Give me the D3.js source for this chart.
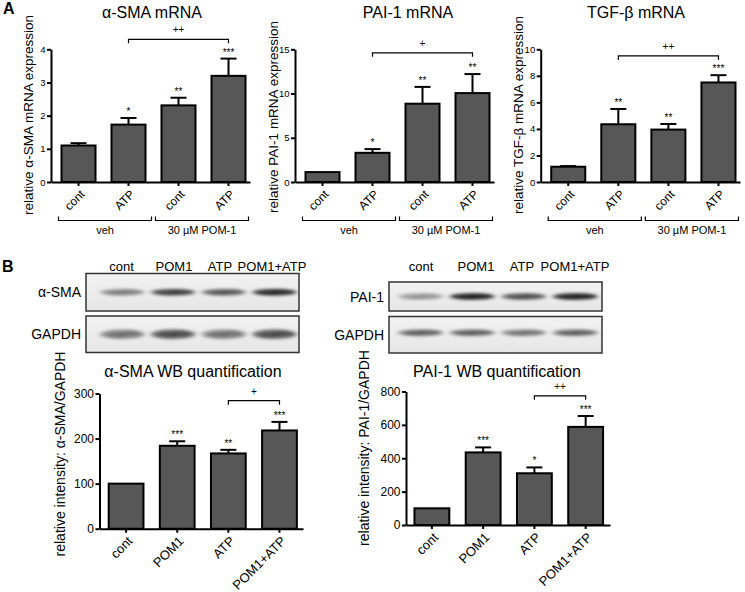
<!DOCTYPE html>
<html>
<head>
<meta charset="utf-8">
<script src="https://cdn.jsdelivr.net/npm/d3@7"></script>
<style>
  body { margin: 0; background: #fff; }
  svg { font-family: "Liberation Sans", Arial, Helvetica, sans-serif; }
</style>
</head>
<body>
<div id="container"></div>
<script>
// categories
const groups = ["cont", "ATP", "cont", "ATP"];
const wbLanes = ["cont", "POM1", "ATP", "POM1+ATP"];

// panel A: mRNA, mean and upper SEM
const smaMrna = [1.1, 1.73, 2.31, 3.2];
const smaMrnaErr = [0.07, 0.2, 0.23, 0.52];
const smaMrnaStars = ["", "*", "**", "***"];
const paiMrna = [1.12, 3.3, 8.85, 10.05];
const paiMrnaErr = [0, 0.42, 1.9, 2.15];
const paiMrnaStars = ["", "*", "**", "**"];
const tgfMrna = [1.15, 4.35, 3.95, 7.5];
const tgfMrnaErr = [0.05, 1.15, 0.42, 0.55];
const tgfMrnaStars = ["", "**", "**", "***"];

// panel B: western blot quantification
const smaWb = [100, 184, 167, 218];
const smaWbErr = [0, 10, 8, 19];
const smaWbStars = ["", "***", "**", "***"];
const paiWb = [100, 435, 310, 588];
const paiWbErr = [0, 30, 35, 65];
const paiWbStars = ["", "***", "*", "***"];

// band darkness per lane (0..1)
const smaBand = [0.45, 0.8, 0.65, 0.95];
const gapdhBandA = [0.5, 0.7, 0.5, 0.7];
const paiBand = [0.35, 1, 0.7, 1];
const gapdhBandB = [0.6, 0.6, 0.5, 0.6];

const width = 745, height = 592;

const svg = d3.select("#container")
  .append("svg")
  .attr("width", width)
  .attr("height", height);

const defs = svg.append("defs");
defs.append("filter").attr("id", "blur")
  .attr("x", "-50%").attr("y", "-100%").attr("width", "200%").attr("height", "300%")
  .append("feGaussianBlur").attr("stdDeviation", "2.5 1.6");
const bg = defs.append("linearGradient").attr("id", "blotbg")
  .attr("x1", 0).attr("y1", 0).attr("x2", 0).attr("y2", 1);
bg.append("stop").attr("offset", "0%").attr("stop-color", "#f2f2f2");
bg.append("stop").attr("offset", "100%").attr("stop-color", "#e6e6e6");

function barChart(o) {
  const g = svg.append("g");
  const rows = o.values.map((v, i) => ({ i, v, e: o.errors[i], s: o.stars[i] }));

  const x = d3.scaleBand().domain(d3.range(rows.length))
    .range([o.left, o.right])
    .paddingInner(0.32).paddingOuter(0.15).align(o.align);
  const y = d3.scaleLinear().domain([0, o.max]).range([o.bottom, o.top]);
  const bw = x.bandwidth();
  const cx = i => x(i) + bw / 2;

  // error bars, upper half only
  const eb = g.selectAll(".err").data(rows.filter(d => d.e > 0)).join("g");
  eb.append("line")
    .attr("x1", d => cx(d.i)).attr("x2", d => cx(d.i))
    .attr("y1", d => y(d.v)).attr("y2", d => y(d.v + d.e))
    .attr("stroke", "#000").attr("stroke-width", 2);
  eb.append("line")
    .attr("x1", d => cx(d.i) - 8).attr("x2", d => cx(d.i) + 8)
    .attr("y1", d => y(d.v + d.e)).attr("y2", d => y(d.v + d.e))
    .attr("stroke", "#000").attr("stroke-width", 2);

  g.selectAll(".bar").data(rows).join("rect")
    .attr("x", d => x(d.i)).attr("y", d => y(d.v))
    .attr("width", bw).attr("height", d => y(0) - y(d.v))
    .attr("fill", "#575757").attr("stroke", "#000").attr("stroke-width", 2);

  // stars
  g.selectAll(".star").data(rows.filter(d => d.s)).join("text")
    .attr("x", d => cx(d.i)).attr("y", d => y(d.v + d.e) - 3)
    .attr("text-anchor", "middle").attr("font-size", 10)
    .text(d => d.s);

  // y axis
  const ya = g.append("g").attr("transform", `translate(${o.left},0)`)
    .call(d3.axisLeft(y).tickValues(o.ticks).tickFormat(d3.format("d"))
      .tickSize(4).tickSizeOuter(0).tickPadding(1.5));
  // x axis
  const xa = g.append("g").attr("transform", `translate(0,${o.bottom})`)
    .call(d3.axisBottom(x).tickSize(4).tickSizeOuter(0).tickFormat(i => o.labels[i]));
  [ya, xa].forEach(a => {
    a.select(".domain").attr("stroke", "#000").attr("stroke-width", 2);
    a.selectAll(".tick line").attr("stroke", "#000").attr("stroke-width", 2);
    a.selectAll("text").attr("fill", "#000").attr("font-family", null);
  });
  ya.selectAll("text").attr("font-size", o.tickFont);
  xa.selectAll("text")
    .attr("font-size", o.labelFont)
    .attr("text-anchor", "end")
    .attr("x", 0).attr("y", 0).attr("dy", "0.35em")
    .attr("transform", "translate(4,10) rotate(-45)");

  // significance bracket
  const b = o.bracket;
  const yb = y(b.level);
  g.append("path")
    .attr("d", `M${cx(b.from)},${yb + 4}V${yb}H${cx(b.to)}V${yb + 4}`)
    .attr("fill", "none").attr("stroke", "#000").attr("stroke-width", 1.2);
  g.append("text")
    .attr("x", (cx(b.from) + cx(b.to)) / 2).attr("y", yb - 6)
    .attr("text-anchor", "middle").attr("font-size", 10)
    .text(b.label);

  // group brackets under the axis (panel A)
  if (o.groups) {
    const mid = (x(1) + bw + x(2)) / 2;
    const spans = [[x(0) - 3, mid - 2], [mid + 2, x(3) + bw + 3]];
    const gy = o.bottom + 38.5;
    o.groups.forEach((lab, k) => {
      const [a, c] = spans[k];
      g.append("path")
        .attr("d", `M${a},${gy - 4}V${gy}H${c}V${gy - 4}`)
        .attr("fill", "none").attr("stroke", "#000").attr("stroke-width", 1.2);
      g.append("text")
        .attr("x", (a + c) / 2).attr("y", gy + 13)
        .attr("text-anchor", "middle").attr("font-size", 11)
        .text(lab);
    });
  }

  // title and y label
  g.append("text")
    .attr("x", o.titleX).attr("y", o.titleY)
    .attr("text-anchor", "middle").attr("font-size", 16)
    .text(o.title);
  g.append("text")
    .attr("transform", `translate(${o.ylabX},${o.ylabY}) rotate(-90)`)
    .attr("text-anchor", "middle").attr("font-size", o.ylabFont)
    .text(o.ylab);
}

function blot(o) {
  const g = svg.append("g");
  const lane = d3.scaleBand().domain(wbLanes).range([o.laneLeft, o.laneRight]);

  g.selectAll(".head").data(wbLanes).join("text")
    .attr("x", (d, i) => o.headX[i]).attr("y", o.headY)
    .attr("text-anchor", "middle").attr("font-size", 13)
    .text(d => d);

  o.rows.forEach((r, k) => {
    const id = `clip${o.id}${k}`;
    defs.append("clipPath").attr("id", id)
      .append("rect").attr("x", o.x0).attr("y", r.y0)
      .attr("width", o.x1 - o.x0).attr("height", r.y1 - r.y0);
    g.append("rect")
      .attr("x", o.x0).attr("y", r.y0)
      .attr("width", o.x1 - o.x0).attr("height", r.y1 - r.y0)
      .attr("fill", "url(#blotbg)");
    const bands = g.append("g").attr("clip-path", `url(#${id})`);
    const cy = (r.y0 + r.y1) / 2 + r.shift;
    const bw = lane.bandwidth();
    r.bands.forEach((v, i) => {
      const c = lane(wbLanes[i]) + bw / 2;
      const gb = bands.append("g").attr("filter", "url(#blur)");
      gb.append("ellipse")
        .attr("cx", c).attr("cy", cy).attr("rx", bw * 0.44).attr("ry", r.ry)
        .attr("fill", "#000").attr("opacity", v * 0.7);
      gb.append("ellipse")
        .attr("cx", c - bw * 0.12).attr("cy", cy + 0.5).attr("rx", bw * 0.2).attr("ry", r.ry * 0.6)
        .attr("fill", "#000").attr("opacity", v * 0.45);
      gb.append("ellipse")
        .attr("cx", c + bw * 0.16).attr("cy", cy - 0.5).attr("rx", bw * 0.2).attr("ry", r.ry * 0.6)
        .attr("fill", "#000").attr("opacity", v * 0.45);
    });
    g.append("rect")
      .attr("x", o.x0).attr("y", r.y0)
      .attr("width", o.x1 - o.x0).attr("height", r.y1 - r.y0)
      .attr("fill", "none").attr("stroke", "#333").attr("stroke-width", 1.5);
    g.append("text")
      .attr("x", o.x0 - 5).attr("y", (r.y0 + r.y1) / 2 + 5)
      .attr("text-anchor", "end").attr("font-size", 14)
      .text(r.label);
  });
}

// panel letters
svg.append("text").attr("x", 3).attr("y", 14).attr("font-size", 16).attr("font-weight", "bold").text("A");
svg.append("text").attr("x", 2).attr("y", 272).attr("font-size", 16).attr("font-weight", "bold").text("B");

const grp = ["veh", "30 µM POM-1"];

barChart({
  values: smaMrna, errors: smaMrnaErr, stars: smaMrnaStars, labels: groups, groups: grp,
  left: 51, right: 250, top: 49.3, bottom: 182, max: 4, ticks: [0, 1, 2, 3, 4], align: 0.7,
  tickFont: 9.5, labelFont: 12,
  bracket: { from: 1, to: 3, level: 4.3, label: "++" },
  title: "α-SMA mRNA", titleX: 152, titleY: 18,
  ylab: "relative α-SMA mRNA expression", ylabX: 33, ylabY: 115, ylabFont: 13.5
});
barChart({
  values: paiMrna, errors: paiMrnaErr, stars: paiMrnaStars, labels: groups, groups: grp,
  left: 295, right: 494, top: 49.3, bottom: 182, max: 15, ticks: [0, 5, 10, 15], align: 0.7,
  tickFont: 9.5, labelFont: 12,
  bracket: { from: 1, to: 3, level: 14.6, label: "+" },
  title: "PAI-1 mRNA", titleX: 408, titleY: 18,
  ylab: "relative PAI-1 mRNA expression", ylabX: 278, ylabY: 117, ylabFont: 13.5
});
barChart({
  values: tgfMrna, errors: tgfMrnaErr, stars: tgfMrnaStars, labels: groups, groups: grp,
  left: 540.7, right: 740, top: 49.3, bottom: 182, max: 10, ticks: [0, 2, 4, 6, 8, 10], align: 0.7,
  tickFont: 9.5, labelFont: 12,
  bracket: { from: 1, to: 3, level: 9.5, label: "++" },
  title: "TGF-β mRNA", titleX: 636, titleY: 18,
  ylab: "relative TGF-β mRNA expression", ylabX: 523, ylabY: 115, ylabFont: 13.5
});

blot({
  id: "a", x0: 86, x1: 299, laneLeft: 97, laneRight: 300,
  headX: [121.5, 174, 220, 272], headY: 271,
  rows: [
    { label: "α-SMA", y0: 273.5, y1: 311, bands: smaBand, ry: 3.5, shift: 0 },
    { label: "GAPDH", y0: 316, y1: 352.5, bands: gapdhBandA, ry: 5, shift: 0 }
  ]
});
blot({
  id: "b", x0: 389, x1: 602, laneLeft: 395, laneRight: 601,
  headX: [421, 476, 522, 575], headY: 271,
  rows: [
    { label: "PAI-1", y0: 282, y1: 311, bands: paiBand, ry: 3.5, shift: 0 },
    { label: "GAPDH", y0: 316.5, y1: 353, bands: gapdhBandB, ry: 3.5, shift: -2 }
  ]
});

barChart({
  values: smaWb, errors: smaWbErr, stars: smaWbStars, labels: wbLanes,
  left: 99.5, right: 303, top: 393.5, bottom: 528.7, max: 300, ticks: [0, 100, 200, 300], align: 0.6,
  tickFont: 12, labelFont: 13,
  bracket: { from: 2, to: 3, level: 284, label: "+" },
  title: "α-SMA WB quantification", titleX: 193, titleY: 377,
  ylab: "relative intensity: α-SMA/GAPDH", ylabX: 65, ylabY: 454, ylabFont: 14
});
barChart({
  values: paiWb, errors: paiWbErr, stars: paiWbStars, labels: wbLanes,
  left: 406, right: 610, top: 391.5, bottom: 525, max: 800, ticks: [0, 200, 400, 600, 800], align: 0.55,
  tickFont: 12, labelFont: 13,
  bracket: { from: 2, to: 3, level: 774, label: "++" },
  title: "PAI-1 WB quantification", titleX: 497, titleY: 377,
  ylab: "relative intensity: PAI-1/GAPDH", ylabX: 369, ylabY: 448, ylabFont: 14
});
</script>
</body>
</html>
